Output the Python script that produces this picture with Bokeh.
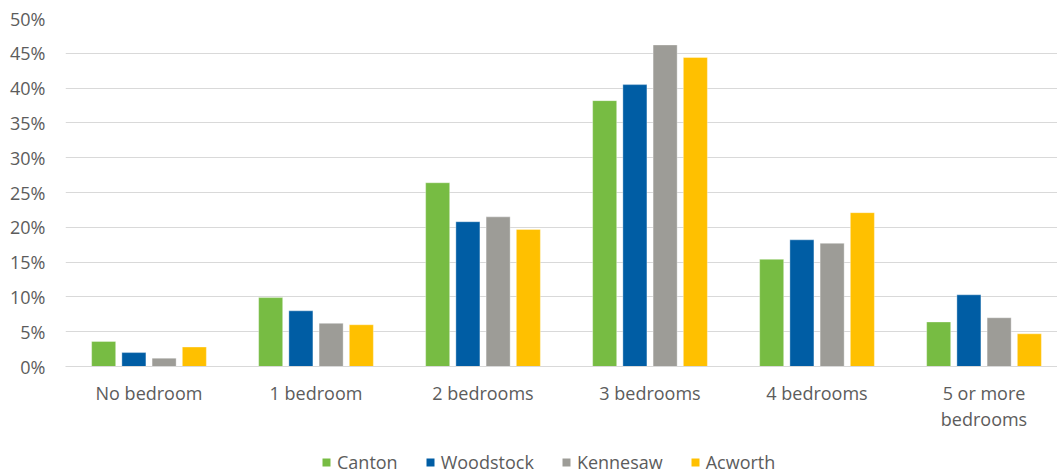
from bokeh.plotting import figure
from bokeh.layouts import column
from bokeh.models import (ColumnDataSource, Range1d, FixedTicker, PrintfTickFormatter,
                          Legend, LegendItem)
from bokeh.transform import dodge
from bokeh.embed import file_html
from bokeh.resources import INLINE

# Share of housing units by number of bedrooms (%)
categories = ["No bedroom", "1 bedroom", "2 bedrooms", "3 bedrooms", "4 bedrooms", "5 or more\nbedrooms"]
cities = ["Canton", "Woodstock", "Kennesaw", "Acworth"]
canton = [3.6, 9.9, 26.4, 38.2, 15.4, 6.4]
woodstock = [2.0, 8.0, 20.8, 40.5, 18.2, 10.3]
kennesaw = [1.2, 6.2, 21.5, 46.2, 17.7, 7.0]
acworth = [2.8, 6.0, 19.7, 44.4, 22.1, 4.7]
y_ticks = [0, 5, 10, 15, 20, 25, 30, 35, 40, 45, 50]

colors = ["#77BC43", "#005DA4", "#9D9C97", "#FFC000"]
FONT = "Open Sans"
TEXT = "#5c5c5c"

src = ColumnDataSource(dict(
    x=list(range(len(categories))),
    Canton=canton, Woodstock=woodstock, Kennesaw=kennesaw, Acworth=acworth,
))

p = figure(width=1057, height=448, output_backend="svg", toolbar_location=None,
           x_range=Range1d(-0.5, 5.44), y_range=Range1d(0, 50),
           min_border_left=65, min_border_right=0, min_border_top=18, min_border_bottom=82)
p.outline_line_color = None
p.background_fill_color = "white"
p.border_fill_color = "white"

pitch = 0.181
bar_w = 0.144
offsets = [-1.5 * pitch, -0.5 * pitch, 0.5 * pitch, 1.5 * pitch]
for city, col, off in zip(cities, colors, offsets):
    p.vbar(x=dodge("x", off), top=city, width=bar_w, source=src,
           fill_color=col, line_color="white", line_alpha=0.35, line_width=1)

# axes
p.xaxis.ticker = FixedTicker(ticks=list(range(len(categories))))
p.xaxis.major_label_overrides = {i: c for i, c in enumerate(categories)}
p.xaxis.axis_line_color = "#d9d9d9"
p.xaxis.major_tick_line_color = None
p.xaxis.minor_tick_line_color = None
p.xaxis.major_label_standoff = 8
p.xaxis.major_label_text_font = FONT
p.xaxis.major_label_text_font_size = "18px"
p.xaxis.major_label_text_color = TEXT
p.xaxis.major_label_text_line_height = 1.1

p.yaxis.ticker = FixedTicker(ticks=y_ticks)
p.yaxis.formatter = PrintfTickFormatter(format="%d%%")
p.yaxis.axis_line_color = None
p.yaxis.major_tick_line_color = None
p.yaxis.minor_tick_line_color = None
p.yaxis.major_label_standoff = 14
p.yaxis.major_label_text_font = FONT
p.yaxis.major_label_text_font_size = "18px"
p.yaxis.major_label_text_color = TEXT

p.xgrid.grid_line_color = None
p.ygrid.grid_line_color = "#d9d9d9"
p.ygrid.grid_line_width = 1

# legend strip underneath the chart; its series renderers are hidden and only
# supply the legend swatches
leg = figure(width=1057, height=28, output_backend="svg", toolbar_location=None,
             x_range=Range1d(0, 1), y_range=Range1d(0, 1),
             min_border=0, min_border_left=0, min_border_right=0,
             min_border_top=0, min_border_bottom=0)
leg.axis.visible = False
leg.grid.visible = False
leg.outline_line_color = None
leg_renderers = [leg.vbar(x="x", top=city, width=bar_w, source=src,
                          fill_color=c, line_color=None, visible=False)
                 for city, c in zip(cities, colors)]
legend = Legend(items=[LegendItem(label=c, renderers=[r]) for c, r in zip(cities, leg_renderers)],
                orientation="horizontal", location=(256, 2),
                glyph_width=10, glyph_height=10, label_standoff=6, spacing=27,
                padding=0, margin=0, border_line_color=None, background_fill_alpha=0,
                label_text_font=FONT, label_text_font_size="18px", label_text_color=TEXT,
                label_height=20)
leg.add_layout(legend, "center")

layout = column(p, leg, spacing=0)
open("out.html", "w").write(file_html(layout, INLINE))
